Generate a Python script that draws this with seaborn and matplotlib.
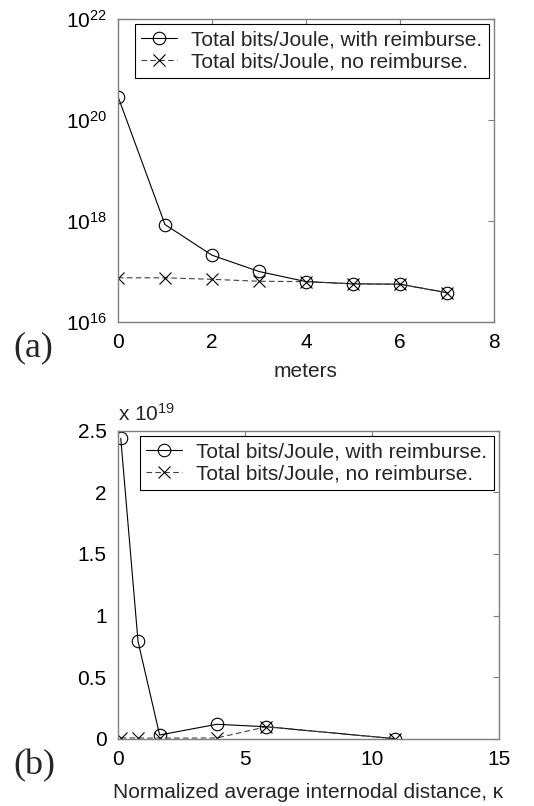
import matplotlib
matplotlib.use("Agg")
import matplotlib.pyplot as plt
import matplotlib.ticker as mticker
import numpy as np
import pandas as pd
import seaborn as sns

# (a) bits/Joule against distance in meters (log scale)
meters = [0, 1, 2, 3, 4, 5, 6, 7]
with_reimb_a = [2.9e20, 8.5e17, 2.1e17, 1.0e17, 6.3e16, 5.7e16, 5.6e16, 3.8e16]
no_reimb_a = [7.5e16, 7.5e16, 7.0e16, 6.4e16, 6.3e16, 5.7e16, 5.6e16, 3.8e16]

# (b) bits/Joule against normalized internodal distance kappa (units of 1e19)
kappa = [0.12, 0.8, 1.65, 3.9, 5.85, 10.9]
with_reimb_b = [2.44, 0.79, 0.03, 0.117, 0.097, 0.0]
no_reimb_b = [0.006, 0.006, 0.005, 0.006, 0.097, 0.0]

label_with = "Total bits/Joule, with reimburse."
label_no = "Total bits/Joule, no reimburse."

sns.set_theme(style="white")
plt.rcParams["font.family"] = ["Liberation Sans", "DejaVu Sans"]
plt.rcParams["mathtext.fontset"] = "custom"
plt.rcParams["mathtext.rm"] = "Liberation Sans"
plt.rcParams["mathtext.it"] = "Liberation Sans:italic"
plt.rcParams["mathtext.default"] = "regular"

SPINE = "#7f7f7f"
FS = 15


def style_axes(ax):
    for side in ax.spines.values():
        side.set_color(SPINE)
        side.set_linewidth(1.0)
    ax.tick_params(direction="in", length=4, width=0.8, color=SPINE,
                   labelsize=FS, labelcolor="black", top=True, right=True,
                   pad=8)
    ax.minorticks_off()


def draw_lines(ax, x, y_with, y_no):
    sns.lineplot(x=x, y=y_with, ax=ax, color="black", linewidth=0.8,
                 marker="o", markersize=9, markerfacecolor="none",
                 markeredgecolor="black", markeredgewidth=0.8,
                 label=label_with, sort=False)
    sns.lineplot(x=x, y=y_no, ax=ax, color="#404040", linewidth=0.8,
                 linestyle=(0, (5, 3)), marker="x", markersize=8,
                 markeredgecolor="black", markeredgewidth=0.8,
                 label=label_no, sort=False)
    leg = ax.legend(loc="upper right", fontsize=FS, frameon=True,
                    fancybox=False, framealpha=1, edgecolor="black",
                    borderaxespad=0.25, handlelength=1.7, labelspacing=0.15,
                    borderpad=0.3, handletextpad=0.7)
    leg.get_frame().set_linewidth(0.8)


fig = plt.figure(figsize=(5.34, 8.06), dpi=100)

# ---- panel (a)
ax1 = fig.add_axes([0.221, 0.6005, 0.704, 0.376])
draw_lines(ax1, meters, with_reimb_a, no_reimb_a)
ax1.set_yscale("log")
ax1.set_ylim(1e16, 1e22)
ax1.set_yticks([1e16, 1e18, 1e20, 1e22])
ax1.yaxis.set_major_formatter(mticker.LogFormatterMathtext())
ax1.set_xlim(0, 8)
ax1.set_xticks([0, 2, 4, 6, 8])
style_axes(ax1)
ax1.set_xlabel("meters", fontsize=FS, labelpad=7)
fig.text(0.025, 0.568, "(a)", fontsize=26, family=["Liberation Serif"],
         va="center", ha="left")

# ---- panel (b)
ax2 = fig.add_axes([0.2204, 0.0835, 0.714, 0.382])
draw_lines(ax2, kappa, with_reimb_b, no_reimb_b)
ax2.set_ylim(0, 2.5)
ax2.set_yticks([0, 0.5, 1, 1.5, 2, 2.5])
ax2.set_yticklabels(["0", "0.5", "1", "1.5", "2", "2.5"])
ax2.set_xlim(0, 15)
ax2.set_xticks([0, 5, 10, 15])
style_axes(ax2)
ax2.set_xlabel("Normalized average internodal distance, \u03ba",
               fontsize=FS, labelpad=10)
ax2.text(0.0, 1.02, r"x $10^{19}$", transform=ax2.transAxes,
         fontsize=FS, ha="left", va="bottom")
fig.text(0.025, 0.05, "(b)", fontsize=26, family=["Liberation Serif"],
         va="center", ha="left")

fig.savefig("out.png", dpi=100)
